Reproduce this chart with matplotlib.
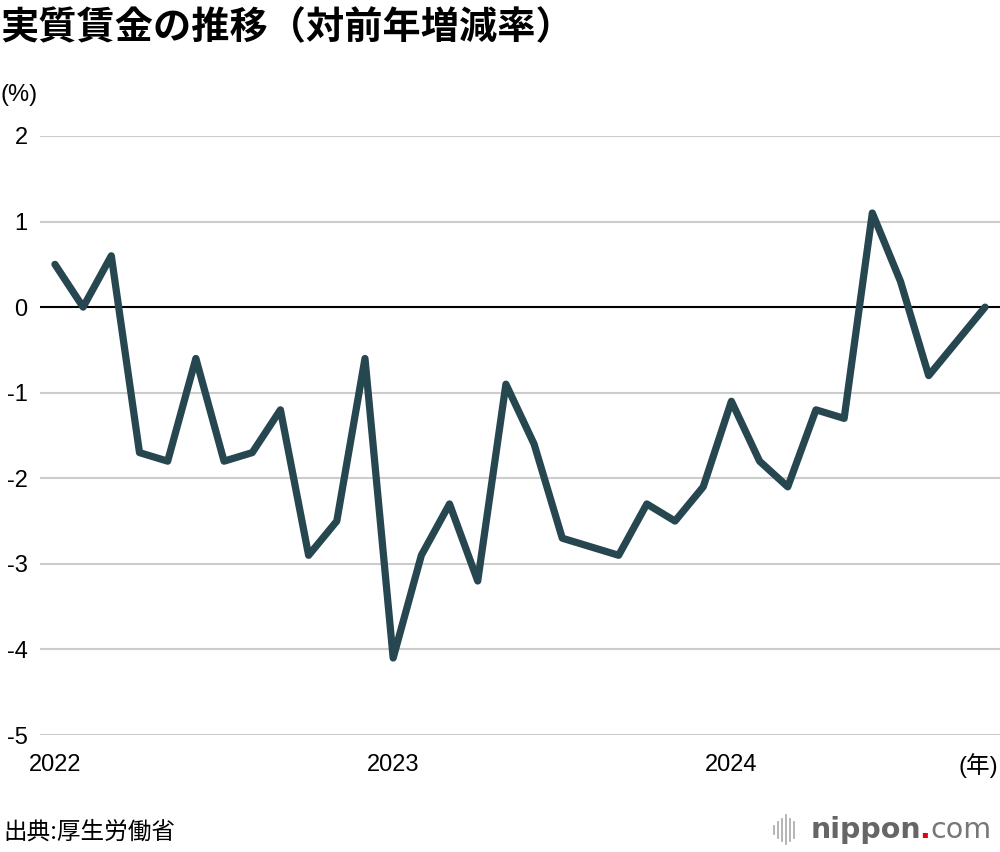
import matplotlib
matplotlib.use('Agg')
import matplotlib.pyplot as plt
from matplotlib.lines import Line2D

plt.rcParams['font.family'] = ['Liberation Sans', 'Noto Sans CJK JP']

# 実質賃金 対前年増減率 (%), 2022年1月 - 2024年10月
months = list(range(34))
values = [0.5, 0.0, 0.6, -1.7, -1.8, -0.6, -1.8, -1.7, -1.2, -2.9, -2.5, -0.6,
          -4.1, -2.9, -2.3, -3.2, -0.9, -1.6, -2.7, -2.8, -2.9, -2.3, -2.5, -2.1,
          -1.1, -1.8, -2.1, -1.2, -1.3, 1.1, 0.3, -0.8, -0.4, 0.0]
year_pos = [0, 12, 24]
year_labels = ['2022', '2023', '2024']
y_ticks = [2, 1, 0, -1, -2, -3, -4, -5]

LINE_COLOR = '#264650'

fig = plt.figure(figsize=(10, 8.52), dpi=100)
ax = fig.add_axes([0.04, 0.1373, 0.96, 0.7031])

for t in y_ticks:
    if t != 0:
        ax.axhline(t, color='#cccccc', linewidth=1.5, zorder=1)
ax.axhline(0, color='black', linewidth=1.5, zorder=2)

ax.plot(months, values, color=LINE_COLOR, linewidth=5.2,
        solid_joinstyle='round', solid_capstyle='round', zorder=3)

ax.set_xlim(-0.53, 33.53)
ax.set_ylim(-5, 2)
ax.set_yticks(y_ticks)
ax.set_yticklabels([str(t) for t in y_ticks], fontsize=17)
ax.set_xticks(year_pos)
ax.set_xticklabels(year_labels, fontsize=17)
ax.tick_params(length=0)
ax.tick_params(axis='x', pad=14)
ax.tick_params(axis='y', pad=9)
for s in ax.spines.values():
    s.set_visible(False)

fig.text(0.0, 0.968, '実質賃金の推移（対前年増減率）', fontsize=27.5,
         fontweight='bold', va='center', ha='left', family='Noto Sans CJK JP')
fig.text(0.0, 0.888, '(%)', fontsize=17, va='center', ha='left')
fig.text(0.998, 0.102, '(年)', fontsize=17, va='center', ha='right')
fig.text(0.003, 0.023, '出典:厚生労働省', fontsize=17, va='center', ha='left',
         family=['Noto Sans CJK JP'])

# nippon.com ロゴ
heights = [0.010, 0.018, 0.026, 0.034, 0.026, 0.018]
for i, h in enumerate(heights):
    x = 0.774 + i * 0.004
    fig.add_artist(Line2D([x, x], [0.026 - h / 2, 0.026 + h / 2],
                          color='#b0b0b0', linewidth=1.3))
fig.text(0.921, 0.016, 'nippon', fontsize=20.5, fontweight='bold',
         color='#666666', va='baseline', ha='right', family='DejaVu Sans')
fig.text(0.919, 0.016, '.', fontsize=20.5, fontweight='bold',
         color='#e60012', va='baseline', ha='left', family='DejaVu Sans')
fig.text(0.930, 0.016, 'com', fontsize=20.5, color='#777777',
         va='baseline', ha='left', family='DejaVu Sans')

fig.savefig('out.png', dpi=100)
